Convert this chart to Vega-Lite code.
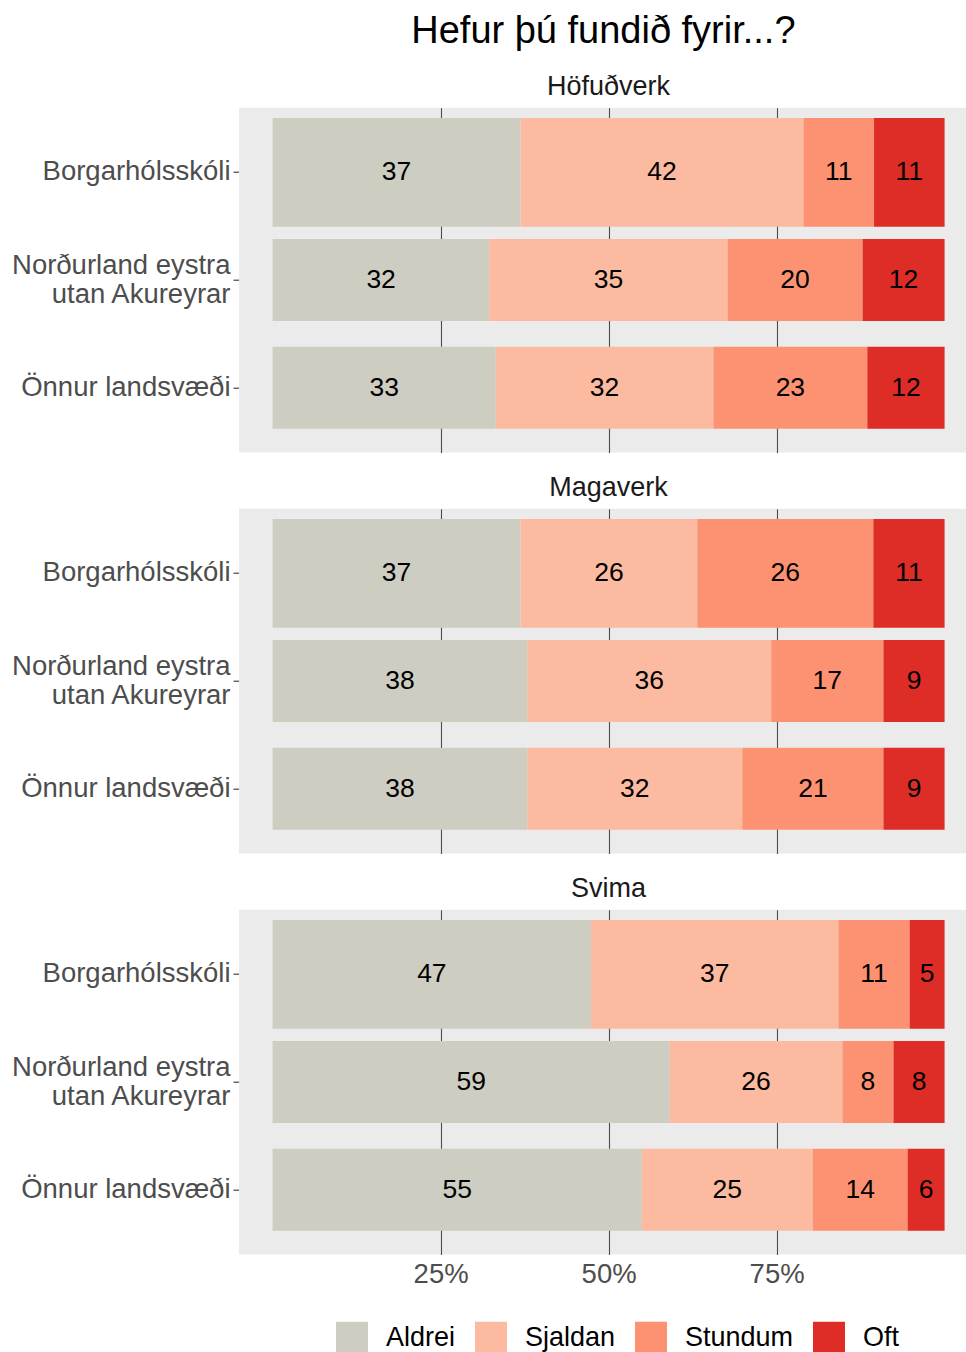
{
  "$schema": "https://vega.github.io/schema/vega-lite/v6.json",
  "padding": {"left": 0, "top": 12.7, "right": -11.6, "bottom": -2},
  "title": {"text": "Hefur þú fundið fyrir...?", "fontSize": 38, "font": "Liberation Sans", "fontWeight": "normal", "color": "#000000", "anchor": "middle", "offset": 22, "dx": 114},
  "data": {"values": [
    {"q": "Höfuðverk", "group": "Borgarhólsskóli", "answer": "Aldrei", "pct": 36.9},
    {"q": "Höfuðverk", "group": "Borgarhólsskóli", "answer": "Sjaldan", "pct": 42.1},
    {"q": "Höfuðverk", "group": "Borgarhólsskóli", "answer": "Stundum", "pct": 10.5},
    {"q": "Höfuðverk", "group": "Borgarhólsskóli", "answer": "Oft", "pct": 10.5},
    {"q": "Höfuðverk", "group": "Norðurland eystra\nutan Akureyrar", "answer": "Aldrei", "pct": 32.3},
    {"q": "Höfuðverk", "group": "Norðurland eystra\nutan Akureyrar", "answer": "Sjaldan", "pct": 35.4},
    {"q": "Höfuðverk", "group": "Norðurland eystra\nutan Akureyrar", "answer": "Stundum", "pct": 20.1},
    {"q": "Höfuðverk", "group": "Norðurland eystra\nutan Akureyrar", "answer": "Oft", "pct": 12.2},
    {"q": "Höfuðverk", "group": "Önnur landsvæði", "answer": "Aldrei", "pct": 33.2},
    {"q": "Höfuðverk", "group": "Önnur landsvæði", "answer": "Sjaldan", "pct": 32.4},
    {"q": "Höfuðverk", "group": "Önnur landsvæði", "answer": "Stundum", "pct": 22.9},
    {"q": "Höfuðverk", "group": "Önnur landsvæði", "answer": "Oft", "pct": 11.5},
    {"q": "Magaverk", "group": "Borgarhólsskóli", "answer": "Aldrei", "pct": 36.9},
    {"q": "Magaverk", "group": "Borgarhólsskóli", "answer": "Sjaldan", "pct": 26.3},
    {"q": "Magaverk", "group": "Borgarhólsskóli", "answer": "Stundum", "pct": 26.2},
    {"q": "Magaverk", "group": "Borgarhólsskóli", "answer": "Oft", "pct": 10.6},
    {"q": "Magaverk", "group": "Norðurland eystra\nutan Akureyrar", "answer": "Aldrei", "pct": 37.9},
    {"q": "Magaverk", "group": "Norðurland eystra\nutan Akureyrar", "answer": "Sjaldan", "pct": 36.3},
    {"q": "Magaverk", "group": "Norðurland eystra\nutan Akureyrar", "answer": "Stundum", "pct": 16.7},
    {"q": "Magaverk", "group": "Norðurland eystra\nutan Akureyrar", "answer": "Oft", "pct": 9.1},
    {"q": "Magaverk", "group": "Önnur landsvæði", "answer": "Aldrei", "pct": 37.9},
    {"q": "Magaverk", "group": "Önnur landsvæði", "answer": "Sjaldan", "pct": 32.0},
    {"q": "Magaverk", "group": "Önnur landsvæði", "answer": "Stundum", "pct": 21.0},
    {"q": "Magaverk", "group": "Önnur landsvæði", "answer": "Oft", "pct": 9.1},
    {"q": "Svima", "group": "Borgarhólsskóli", "answer": "Aldrei", "pct": 47.4},
    {"q": "Svima", "group": "Borgarhólsskóli", "answer": "Sjaldan", "pct": 36.8},
    {"q": "Svima", "group": "Borgarhólsskóli", "answer": "Stundum", "pct": 10.6},
    {"q": "Svima", "group": "Borgarhólsskóli", "answer": "Oft", "pct": 5.2},
    {"q": "Svima", "group": "Norðurland eystra\nutan Akureyrar", "answer": "Aldrei", "pct": 59.1},
    {"q": "Svima", "group": "Norðurland eystra\nutan Akureyrar", "answer": "Sjaldan", "pct": 25.7},
    {"q": "Svima", "group": "Norðurland eystra\nutan Akureyrar", "answer": "Stundum", "pct": 7.6},
    {"q": "Svima", "group": "Norðurland eystra\nutan Akureyrar", "answer": "Oft", "pct": 7.6},
    {"q": "Svima", "group": "Önnur landsvæði", "answer": "Aldrei", "pct": 54.9},
    {"q": "Svima", "group": "Önnur landsvæði", "answer": "Sjaldan", "pct": 25.4},
    {"q": "Svima", "group": "Önnur landsvæði", "answer": "Stundum", "pct": 14.1},
    {"q": "Svima", "group": "Önnur landsvæði", "answer": "Oft", "pct": 5.5}
  ]},
  "transform": [
    {"lookup": "answer", "from": {"data": {"values": [
      {"answer": "Aldrei", "rank": 1},
      {"answer": "Sjaldan", "rank": 2},
      {"answer": "Stundum", "rank": 3},
      {"answer": "Oft", "rank": 4}
    ]}, "key": "answer", "fields": ["rank"]}}
  ],
  "facet": {
    "field": "q", "type": "nominal", "sort": ["Höfuðverk", "Magaverk", "Svima"],
    "header": {"title": null, "labelFontSize": 27, "labelFont": "Liberation Sans", "labelColor": "#1A1A1A", "labelPadding": -14, "labelBaseline": "alphabetic"}
  },
  "columns": 1,
  "spacing": 21,
  "spec": {
    "width": 739.2,
    "height": 344.7,
    "encoding": {
      "y": {
        "field": "group", "type": "nominal",
        "sort": ["Borgarhólsskóli", "Norðurland eystra\nutan Akureyrar", "Önnur landsvæði"],
        "scale": {"paddingInner": 0, "paddingOuter": 0.1},
        "axis": {"title": null, "domain": false, "grid": false, "ticks": true, "tickSize": 6, "tickColor": "#333333", "tickWidth": 1.1, "labelPadding": 3, "labelFontSize": 27.5, "labelFont": "Liberation Sans", "labelColor": "#4D4D4D", "labelLimit": 0, "labelExpr": "split(datum.label, '\\n')", "labelLineHeight": 29,
          "labelOffset": {"condition": {"test": "indexof(datum.value, '\\n') >= 0", "value": -14}, "value": 0},
          "minExtent": 238.4, "maxExtent": 238.4}
      }
    },
    "layer": [
      {
        "transform": [{"filter": "datum.group === 'Borgarhólsskóli'"}],
        "mark": {"type": "bar", "height": {"band": 1.01}},
        "encoding": {
          "x": {"field": "pct", "type": "quantitative", "stack": "normalize",
            "scale": {"domain": [-0.05, 1.05], "nice": false, "zero": false},
            "axis": {"values": [0.25, 0.5, 0.75], "format": ".0%", "title": null, "ticks": false, "tickSize": 0, "domain": false, "grid": true, "gridColor": "#4D4D4D", "gridWidth": 1.1, "labelFontSize": 27.5, "labelFont": "Liberation Sans", "labelColor": "#4D4D4D", "labelPadding": 5.5}},
          "color": {"field": "answer", "type": "nominal",
            "scale": {"domain": ["Aldrei", "Sjaldan", "Stundum", "Oft"], "range": ["#CDCDC1", "#FCBBA1", "#FC9272", "#DE2D26"]},
            "legend": {"title": null, "orient": "none", "direction": "horizontal", "legendX": 97, "legendY": 1214, "symbolType": "square", "symbolSize": 1024, "symbolStrokeWidth": 0, "symbolOpacity": 1, "labelFontSize": 27, "labelFont": "Liberation Sans", "labelColor": "#000000", "labelOffset": 18, "columnPadding": 19}},
          "order": {"field": "rank", "type": "quantitative"}
        }
      },
      {
        "transform": [{"filter": "datum.group !== 'Borgarhólsskóli'"}],
        "mark": {"type": "bar", "height": {"band": 0.76}},
        "encoding": {
          "x": {"field": "pct", "type": "quantitative", "stack": "normalize"},
          "color": {"field": "answer", "type": "nominal"},
          "order": {"field": "rank", "type": "quantitative"}
        }
      },
      {
        "mark": {"type": "text", "fontSize": 26.5, "font": "Liberation Sans", "color": "#000000", "baseline": "middle", "align": "center"},
        "encoding": {
          "x": {"field": "pct", "type": "quantitative", "stack": "normalize", "bandPosition": 0.5},
          "detail": {"field": "answer"},
          "order": {"field": "rank", "type": "quantitative"},
          "text": {"field": "pct", "type": "quantitative", "format": ".0f"}
        }
      }
    ]
  },
  "config": {
    "view": {"fill": "#EBEBEB", "stroke": null},
    "font": "Liberation Sans"
  }
}
